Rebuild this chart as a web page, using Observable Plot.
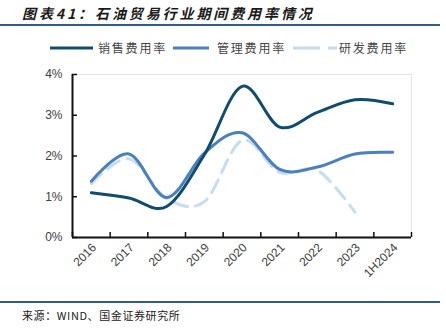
<!DOCTYPE html>
<html><head><meta charset="utf-8">
<script src="https://cdn.jsdelivr.net/npm/d3@7"></script>
<script src="https://cdn.jsdelivr.net/npm/@observablehq/plot@0.6"></script>
<style>
body{margin:0;background:#fff;width:446px;height:329px;position:relative;overflow:hidden;font-family:"Liberation Sans",Arial,sans-serif}
#title{position:absolute;left:22px;top:3px;font-style:italic;font-weight:bold;font-size:14px;font-family:"Noto Sans CJK SC";letter-spacing:2.9px;color:#1a1a1a;white-space:nowrap}
.hr{position:absolute;left:0;width:440px;height:2px;background:#2f5d86}
#legend{position:absolute;top:39px;left:0;width:446px;height:18px}
#legend .item{position:absolute;top:0;font-family:"Noto Sans CJK SC";font-size:12px;letter-spacing:1.8px;color:#444;white-space:nowrap;line-height:18px}
#legend svg{position:absolute;top:0}
#chart{position:absolute;left:0;top:60px}
#caption{position:absolute;left:22px;top:307px;font-family:"Noto Sans CJK SC";font-size:11px;letter-spacing:0.6px;color:#222;white-space:nowrap}
</style>
</head><body>
<div id="title">图表41：石油贸易行业期间费用率情况</div>
<div class="hr" style="top:24px"></div>
<div id="legend"></div>
<div id="chart"></div>
<div class="hr" style="top:301px"></div>
<div id="caption">来源：WIND、国金证券研究所</div>
<script>
const categories = ["2016","2017","2018","2019","2020","2021","2022","2023","1H2024"];
const seriesNames = ["销售费用率","管理费用率","研发费用率"];
const sales = [1.10, 0.97, 0.76, 2.03, 3.71, 2.71, 3.07, 3.38, 3.28];
const mgmt  = [1.38, 2.05, 0.98, 2.07, 2.57, 1.67, 1.73, 2.05, 2.09];
const rd    = [1.32, 1.93, 0.96, 0.88, 2.38, 1.60, 1.65, 0.62, null];
const yTicks = [0, 1, 2, 3, 4];
const colors = ["#0f4c6e", "#4a80c0", "#c6dcf0"];

const seriesValues = [sales, mgmt, rd];
const rows = seriesNames.flatMap((name, s) =>
  seriesValues[s].map((v, i) => ({name, i, v})).filter(d => d.v != null));

// legend
const legend = document.getElementById("legend");
const legendLayout = [
  {x1: 50, x2: 93, tx: 98},
  {x1: 173, x2: 209, tx: 217},
  {x1: 293, x2: 337, tx: 339}
];
seriesNames.forEach((name, s) => {
  const L = legendLayout[s];
  const svg = d3.create("svg").attr("width", L.x2 - L.x1 + 2).attr("height", 18)
    .style("left", (L.x1 - 1) + "px");
  svg.append("line").attr("x1", 1).attr("x2", L.x2 - L.x1 + 1).attr("y1", 9).attr("y2", 9)
    .attr("stroke", colors[s]).attr("stroke-width", 3)
    .attr("stroke-dasharray", s === 2 ? "27,8" : null);
  legend.appendChild(svg.node());
  const t = document.createElement("div");
  t.className = "item"; t.style.left = L.tx + "px"; t.textContent = name;
  legend.appendChild(t);
});

const n = categories.length;
const idx = categories.map((c, i) => i);
const bounds = d3.range(n + 1).map(i => i - 0.5);

const chart = Plot.plot({
  width: 446, height: 237,
  marginTop: 14, marginLeft: 72, marginRight: 35, marginBottom: 60,
  style: {fontFamily: "Liberation Sans, Arial, sans-serif", color: "#404040", background: "transparent"},
  x: {type: "linear", domain: [-0.5, n - 0.5], label: null},
  y: {domain: [0, 4], label: null},
  color: {domain: seriesNames, range: colors},
  marks: [
    Plot.frame({stroke: "#e4e4e4"}),
    Plot.line(rows.filter(d => d.name === seriesNames[2]), {x: "i", y: "v", stroke: colors[2], strokeWidth: 3, strokeDasharray: "14,8", curve: "cardinal", tension: 0}),
    Plot.line(rows.filter(d => d.name === seriesNames[1]), {x: "i", y: "v", stroke: colors[1], strokeWidth: 3, curve: "cardinal", tension: 0}),
    Plot.line(rows.filter(d => d.name === seriesNames[0]), {x: "i", y: "v", stroke: colors[0], strokeWidth: 3, curve: "cardinal", tension: 0}),
    Plot.ruleX([-0.5], {stroke: "#111", strokeWidth: 2}),
    Plot.ruleY([0], {stroke: "#111", strokeWidth: 2}),
    Plot.axisY(yTicks, {label: null, tickSize: -5, tickPadding: 15, tickFormat: d => d + "%", fontSize: 12, stroke: "#111", strokeWidth: 1.5}),
    Plot.axisX(bounds, {label: null, tickSize: -5, tickFormat: () => "", stroke: "#111", strokeWidth: 1.5}),
    Plot.axisX(idx, {label: null, tickSize: 0, tickPadding: 8, dx: 3, tickRotate: -45, tickFormat: i => categories[i], fontSize: 12})
  ]
});
document.getElementById("chart").appendChild(chart);
</script>
</body></html>
